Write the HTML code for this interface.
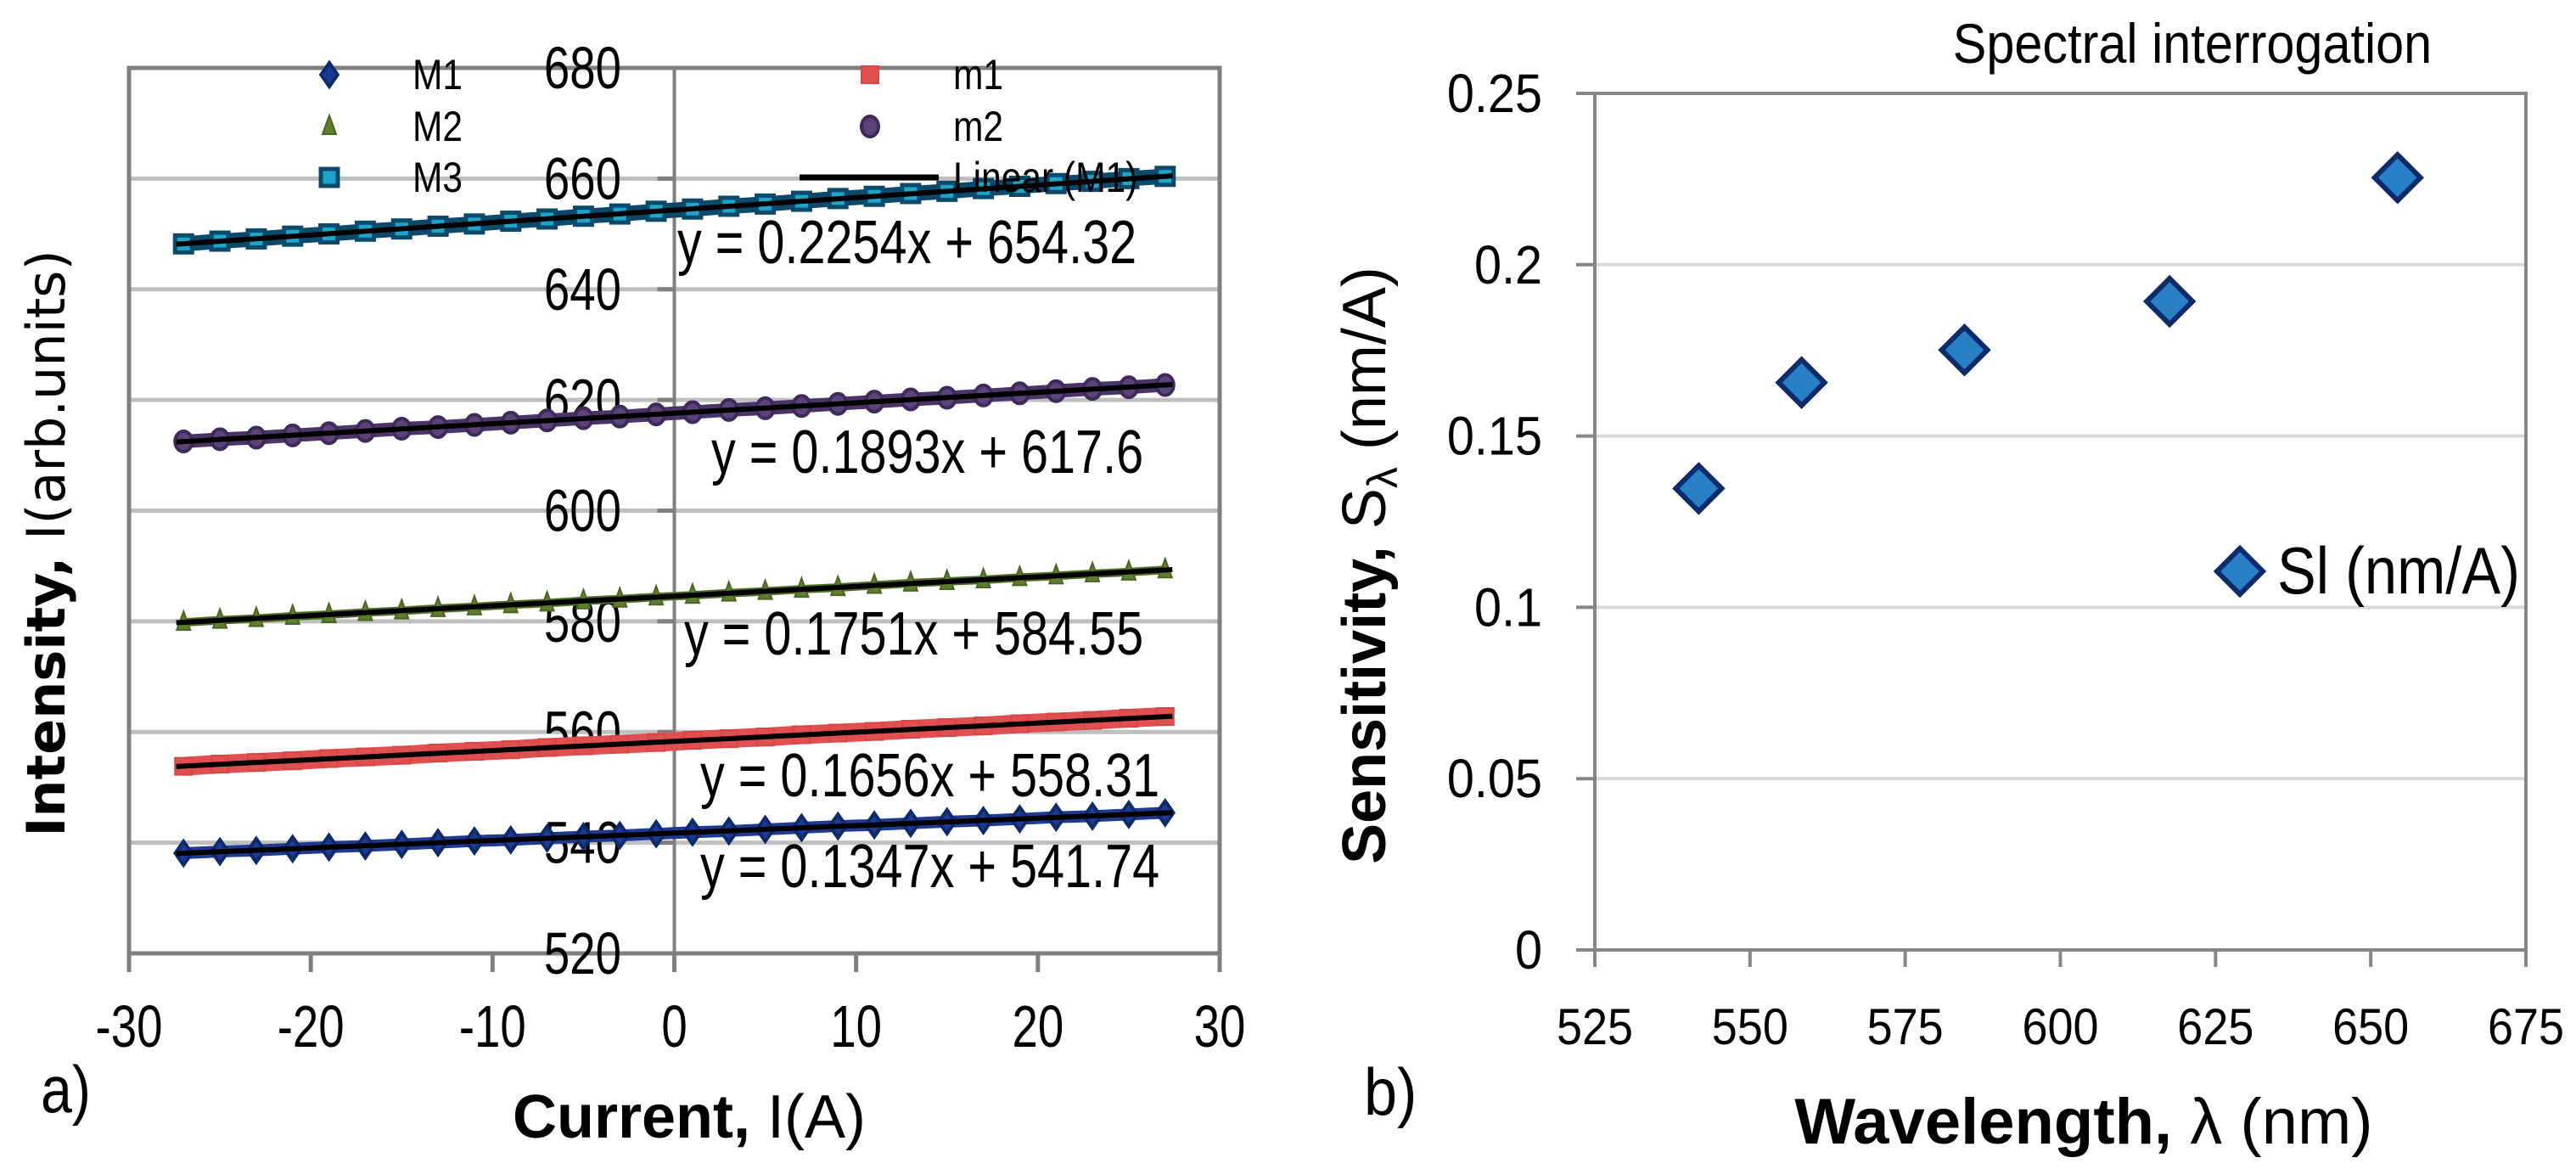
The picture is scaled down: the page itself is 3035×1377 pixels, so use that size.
<!DOCTYPE html>
<html><head><meta charset="utf-8">
<style>
html,body{margin:0;padding:0;background:#fff;}
svg{display:block;}
.s{font-family:"Liberation Sans",sans-serif;}
.d{font-family:"DejaVu Sans","Liberation Sans",sans-serif;}
</style></head>
<body>
<svg id="chart" width="3035" height="1377" viewBox="0 0 3035 1377" xmlns="http://www.w3.org/2000/svg">
<g id="left"></g>
<g id="right"></g>
</svg>
<script>
// ---- Left chart data ----
const currentX = [-27,-25,-23,-21,-19,-17,-15,-13,-11,-9,-7,-5,-3,-1,1,3,5,7,9,11,13,15,17,19,21,23,25,27];
const seriesM1 = [538.1,538.4,538.6,538.9,539.2,539.4,539.7,540.0,540.3,540.5,540.8,541.1,541.3,541.6,541.9,542.1,542.4,542.7,543.0,543.2,543.5,543.8,544.0,544.3,544.6,544.8,545.1,545.4];
const seriesm1 = [553.8,554.2,554.5,554.8,555.2,555.5,555.8,556.2,556.5,556.8,557.2,557.5,557.8,558.1,558.5,558.8,559.1,559.5,559.8,560.1,560.5,560.8,561.1,561.5,561.8,562.1,562.5,562.8];
const seriesM2 = [579.8,580.2,580.5,580.9,581.2,581.6,581.9,582.3,582.6,583.0,583.3,583.7,584.0,584.4,584.7,585.1,585.4,585.8,586.1,586.5,586.9,587.2,587.5,587.9,588.2,588.6,588.9,589.3];
const seriesm2 = [612.5,612.9,613.2,613.6,614.0,614.4,614.8,615.1,615.5,615.9,616.3,616.7,617.0,617.4,617.8,618.2,618.5,618.9,619.3,619.7,620.1,620.4,620.8,621.2,621.6,622.0,622.3,622.7];
const seriesM3 = [648.2,648.7,649.1,649.6,650.0,650.5,650.9,651.4,651.8,652.3,652.7,653.2,653.6,654.1,654.5,655.0,655.4,655.9,656.4,656.8,657.3,657.7,658.2,658.6,659.1,659.5,660.0,660.4];
const fitSlopes = [0.1347,0.1656,0.1751,0.1893,0.2254];
const fitIntercepts = [541.74,558.31,584.55,617.6,654.32];
const fitLabels = ["y = 0.1347x + 541.74","y = 0.1656x + 558.31","y = 0.1751x + 584.55","y = 0.1893x + 617.6","y = 0.2254x + 654.32"];
const leftXTicks = [-30,-20,-10,0,10,20,30];
const leftYTicks = [520,540,560,580,600,620,640,660,680];
// ---- Right chart data ----
const wavelengths = [541.74,558.31,584.55,617.6,654.32];
const sensitivity = [0.1347,0.1656,0.1751,0.1893,0.2254];
const rightXTicks = [525,550,575,600,625,650,675];
const rightYTicks = [0,0.05,0.1,0.15,0.2,0.25];
const rightYTickLabels = ["0","0.05","0.1","0.15","0.2","0.25"];

const NS="http://www.w3.org/2000/svg";
function mk(parent,tag,attrs,text){const e=document.createElementNS(NS,tag);for(const k in attrs)e.setAttribute(k,attrs[k]);if(text!==undefined)e.textContent=text;parent.appendChild(e);return e;}
// condensed text (Calibri-like look)
function ctext(parent,x,y,str,size,sx,anchor){
  return mk(parent,'text',{x:0,y:0,transform:`translate(${x},${y}) scale(${sx},1)`,'text-anchor':anchor||'start','font-size':size,class:'s',fill:'#000'},str);
}

// ===== LEFT =====
const L=document.getElementById('left');
const lx=v=>152+(v+30)/60*(1437-152);
const ly=v=>1123-(v-520)/160*(1123-80);
leftYTicks.forEach(t=>{
  if(t>520&&t<680){const g=mk(L,'line',{x1:152,x2:1437,y1:ly(t),y2:ly(t),stroke:'#BFBFBF','stroke-width':5});
  
  }
});
const lf=mk(L,'rect',{x:152,y:80,width:1285,height:1043,fill:'none',stroke:'#7F7F7F','stroke-width':5});


const yax=mk(L,'line',{x1:lx(0),x2:lx(0),y1:80,y2:1123,stroke:'#7F7F7F','stroke-width':4});


leftYTicks.forEach(t=>{
  mk(L,'line',{x1:lx(0)-20,x2:lx(0),y1:ly(t),y2:ly(t),stroke:'#7F7F7F','stroke-width':5});
  const tx=ctext(L,732,ly(t)+24,String(t),70,0.78,'end');
  
  
});
leftXTicks.forEach(t=>{
  mk(L,'line',{x1:lx(t),x2:lx(t),y1:1123,y2:1145,stroke:'#7F7F7F','stroke-width':5});
  const tx=ctext(L,lx(t),1233,String(t),70,0.78,'middle');
  
  
});
function diamond(g,x,y,r,fill,stroke,sw){return mk(g,'polygon',{points:`${x},${y-r} ${x+r*0.7},${y} ${x},${y+r} ${x-r*0.7},${y}`,fill:fill,stroke:stroke,'stroke-width':sw});}
function marker(g,kind,x,y){
  if(kind==='M1')return diamond(g,x,y,14,'#1F3A93','#0D2A6B',4);
  if(kind==='m1')return mk(g,'rect',{x:x-10,y:y-10,width:20,height:20,fill:'#E05050',stroke:'#D84545','stroke-width':2});
  if(kind==='M2')return mk(g,'polygon',{points:`${x},${y-13} ${x+8},${y+9} ${x-8},${y+9}`,fill:'#5E7E2E',stroke:'#4A6622','stroke-width':2});
  if(kind==='m2')return mk(g,'ellipse',{cx:x,cy:y,rx:10,ry:12,fill:'#5A4478',stroke:'#3F2A5C','stroke-width':4});
  if(kind==='M3')return mk(g,'rect',{x:x-10,y:y-10,width:20,height:20,fill:'#1DA6C9',stroke:'#0B4A6B','stroke-width':5});
}
const series=[['M1',seriesM1],['m1',seriesm1],['M2',seriesM2],['m2',seriesm2],['M3',seriesM3]];
const bandColor={M1:'#1F3A93',m1:'#E05050',M2:'#4E6E26',m2:'#4A3568',M3:'#0B4A6B'};
const bandWidth={M1:14,m1:22,M2:10,m2:16,M3:18};
series.forEach(([name,vals])=>{
  const g=mk(L,'g',{});
  
  
  mk(g,'polyline',{points:vals.map((v,i)=>lx(currentX[i])+','+ly(v)).join(' '),fill:'none',stroke:bandColor[name],'stroke-width':bandWidth[name]});
  vals.forEach((v,i)=>{const m=marker(g,name,lx(currentX[i]),ly(v));
    
    });
});
fitSlopes.forEach((a,i)=>{
  const b=fitIntercepts[i];
  const ln=mk(L,'line',{x1:lx(-27.4),y1:ly(a*-27.4+b),x2:lx(27.4),y2:ly(a*27.4+b),stroke:'#000','stroke-width':6});
  
  
});
const eqPos=[[825,1045],[825,938],[806,771],[838,557],[798,310]];
fitLabels.forEach((t,i)=>{
  const tx=ctext(L,eqPos[i][0],eqPos[i][1],t,72,0.8,'start');
  
  
});
// legend
const leg=mk(L,'g',{});


[['M1',388,88],['M2',388,149],['M3',388,209],['m1',1025,88],['m2',1025,149]].forEach(([n,x,y])=>{
  const m=marker(leg,n,x,y);
  
  
  const tx=ctext(leg,x+98,y+17,n,50,0.85,'start');
  
  
});
mk(leg,'line',{x1:942,x2:1106,y1:209,y2:209,stroke:'#000','stroke-width':7});
const lt=ctext(leg,1123,226,'Linear (M1)',50,0.85,'start');


// titles
const yt=mk(L,'text',{transform:'translate(76,640) rotate(-90)','text-anchor':'middle','font-size':62,class:'d',fill:'#000'});
yt.innerHTML='<tspan font-weight="bold">Intensity,</tspan> I(arb.units)';


const xt=mk(L,'text',{x:812,y:1340,'text-anchor':'middle','font-size':72,class:'s',fill:'#000'});
xt.innerHTML='<tspan font-weight="bold">Current,</tspan> I(A)';


const pa=ctext(L,48,1310,'a)',78,0.85,'start');



// ===== RIGHT =====
const R=document.getElementById('right');
const rx=v=>1879+(v-525)/150*(2976-1879);
const ry=v=>1119-v/0.25*(1119-110);
rightYTicks.forEach((t,i)=>{
  if(i>0&&i<rightYTicks.length-1){const g=mk(R,'line',{x1:1879,x2:2976,y1:ry(t),y2:ry(t),stroke:'#D9D9D9','stroke-width':4});
  
  }
  mk(R,'line',{x1:1857,x2:1879,y1:ry(t),y2:ry(t),stroke:'#868686','stroke-width':4});
  const tx=ctext(R,1817,ry(t)+22,rightYTickLabels[i],64,0.9,'end');
  
  
});
const rf=mk(R,'rect',{x:1879,y:110,width:1097,height:1009,fill:'none',stroke:'#868686','stroke-width':4});


rightXTicks.forEach(t=>{
  mk(R,'line',{x1:rx(t),x2:rx(t),y1:1119,y2:1139,stroke:'#868686','stroke-width':4});
  const tx=ctext(R,rx(t),1230,String(t),60,0.9,'middle');
  
  
});
function bigDiamond(g,x,y){return mk(g,'polygon',{points:`${x},${y-27} ${x+27},${y} ${x},${y+27} ${x-27},${y}`,fill:'#2A80C4',stroke:'#0D2A6B','stroke-width':6});}
wavelengths.forEach((w,i)=>{
  const p=bigDiamond(R,rx(w),ry(sensitivity[i]));
  
  
});
const rl=bigDiamond(R,2639,673);


const rlt=ctext(R,2683,699,'Sl (nm/A)',78,0.88,'start');


const ti=ctext(R,2583,74,'Spectral interrogation',66,0.9,'middle');


const ryt=mk(R,'text',{transform:'translate(1632,666) rotate(-90)','text-anchor':'middle','font-size':72,class:'s',fill:'#000'});
ryt.innerHTML='<tspan font-weight="bold">Sensitivity,</tspan> S<tspan font-size="50" dy="14">λ</tspan><tspan dy="-14"> (nm/A)</tspan>';


const rxt=mk(R,'text',{x:2455,y:1347,'text-anchor':'middle','font-size':76,class:'s',fill:'#000'});
rxt.innerHTML='<tspan font-weight="bold">Wavelength,</tspan> λ (nm)';


const pb=ctext(R,1607,1313,'b)',78,0.9,'start');


</script>
</body></html>
